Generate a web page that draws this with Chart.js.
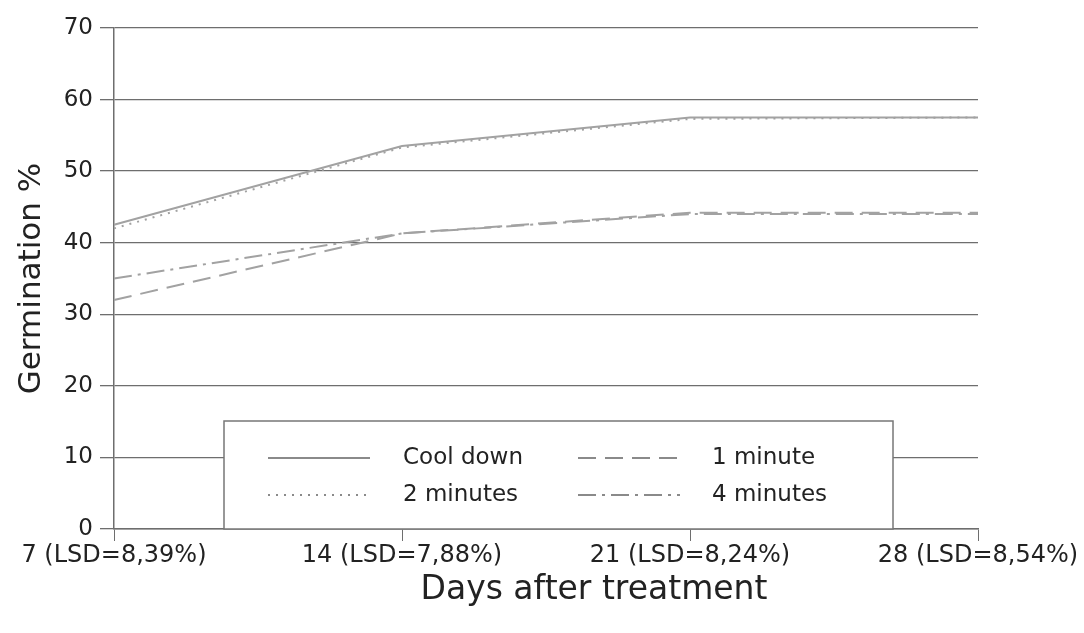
<!DOCTYPE html>
<html>
<head>
<meta charset="utf-8">
<script src="https://cdn.jsdelivr.net/npm/chart.js@4.4.1/dist/chart.umd.min.js"></script>
<style>
  html, body { margin: 0; padding: 0; background: #fff; }
  #wrap { width: 1084px; height: 633px; }
</style>
</head>
<body>
<div id="wrap"><canvas id="germChart"></canvas></div>
<script>
const days = ["7 (LSD=8,39%)", "14 (LSD=7,88%)", "21 (LSD=8,24%)", "28 (LSD=8,54%)"];
const coolDown = [42.5, 53.5, 57.5, 57.5];
const oneMinute = [32, 41.3, 44.2, 44.2];
const twoMinutes = [42, 53.3, 57.3, 57.5];
const fourMinutes = [35, 41.3, 44, 44];

const FONT = "'DejaVu Sans', 'Liberation Sans', sans-serif";
const lineColor = "#a2a2a2";
const gridColor = "#6e6e6e";

// legend drawn inside the plot, like the original boxed key
const boxLegend = {
  id: "boxLegend",
  afterDraw(chart, args, opts) {
    const ctx = chart.ctx;
    ctx.save();
    ctx.fillStyle = "#fff";
    ctx.fillRect(opts.x, opts.y, opts.w, opts.h);
    ctx.strokeStyle = "#777";
    ctx.lineWidth = 1.5;
    ctx.strokeRect(opts.x, opts.y, opts.w, opts.h);
    ctx.font = "23px " + FONT;
    ctx.textBaseline = "middle";
    chart.data.datasets.forEach((ds, i) => {
      const col = i % 2;
      const row = Math.floor(i / 2);
      const sx = opts.x + opts.sampleX[col];
      const sy = opts.y + opts.rowY[row];
      ctx.strokeStyle = "#8a8a8a";
      ctx.lineWidth = 2;
      ctx.setLineDash(ds.borderDash || []);
      ctx.beginPath();
      ctx.moveTo(sx, sy);
      ctx.lineTo(sx + opts.sampleW, sy);
      ctx.stroke();
      ctx.setLineDash([]);
      ctx.fillStyle = "#222";
      ctx.fillText(ds.label, opts.x + opts.textX[col], sy);
    });
    ctx.restore();
  },
};

// x title sits a bit right of the plot centre in the original
const xTitle = {
  id: "xTitle",
  afterDraw(chart, args, opts) {
    const ctx = chart.ctx;
    const sx = chart.scales.x;
    ctx.save();
    ctx.font = "33px " + FONT;
    ctx.fillStyle = "#222";
    ctx.textAlign = "center";
    ctx.textBaseline = "middle";
    ctx.fillText(opts.text, (sx.left + sx.right) / 2 + opts.shift, opts.y);
    ctx.restore();
  },
};

new Chart(document.getElementById("germChart"), {
  type: "line",
  data: {
    labels: days,
    datasets: [
      { label: "Cool down", data: coolDown, borderDash: [] },
      { label: "1 minute", data: oneMinute, borderDash: [18, 9] },
      { label: "2 minutes", data: twoMinutes, borderDash: [2, 6] },
      { label: "4 minutes", data: fourMinutes, borderDash: [18, 6, 3, 6] },
    ].map((d) => ({
      ...d,
      borderColor: lineColor,
      borderWidth: 2,
      pointRadius: 0,
      tension: 0,
      fill: false,
    })),
  },
  options: {
    responsive: true,
    maintainAspectRatio: false,
    animation: false,
    layout: { padding: { left: 10, right: 106, top: 28, bottom: 0 } },
    plugins: {
      legend: { display: false },
      tooltip: { enabled: false },
      boxLegend: {
        x: 224, y: 421, w: 669, h: 108,
        sampleX: [44, 354], sampleW: 102,
        textX: [179, 488],
        rowY: [37, 74],
      },
      xTitle: { text: "Days after treatment", y: 590, shift: 48 },
    },
    scales: {
      x: {
        offset: false,
        grid: { drawOnChartArea: false, drawTicks: true, tickLength: 12, color: gridColor },
        border: { color: gridColor, width: 1.5 },
        ticks: { color: "#222", font: { family: FONT, size: 24 }, padding: 0, maxRotation: 0, autoSkip: false },
        afterFit: (s) => { s.height = 104; },
      },
      y: {
        min: 0,
        max: 70,
        ticks: { stepSize: 10, color: "#222", font: { family: FONT, size: 23 }, padding: 7 },
        grid: { color: gridColor, lineWidth: 1.3, tickLength: 14 },
        border: { color: gridColor, width: 1.5 },
        title: { display: true, text: "Germination %", color: "#222", font: { family: FONT, size: 31 }, padding: { top: 3, bottom: 0 } },
        afterFit: (s) => { s.width = 104; },
      },
    },
  },
  plugins: [boxLegend, xTitle],
});
</script>
</body>
</html>
